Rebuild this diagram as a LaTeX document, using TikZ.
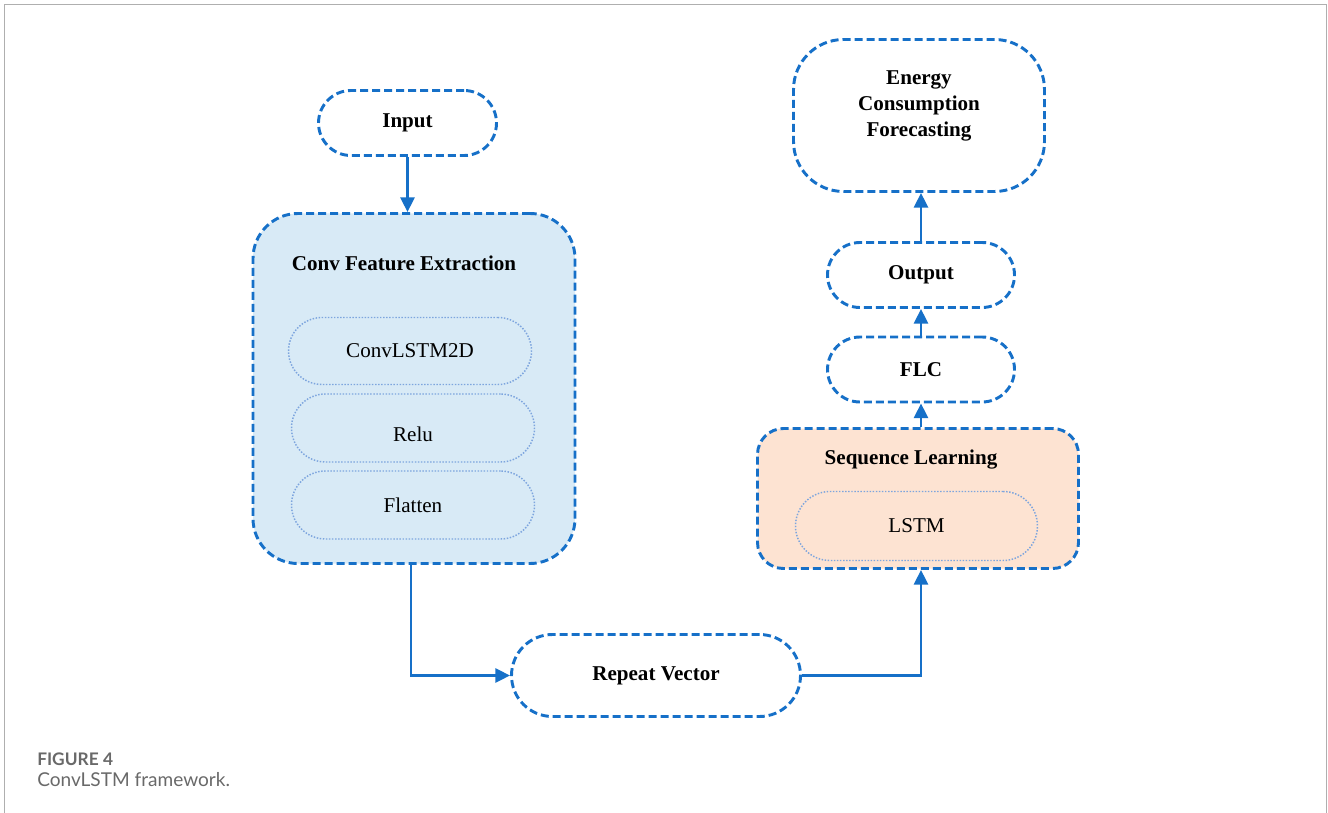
\documentclass[tikz,border=0pt]{standalone}
\usepackage{fontspec}
\setmainfont{Liberation Serif}
\newfontfamily\capfont{Lato}
\usetikzlibrary{arrows.meta,calc}
\newcommand\pxu{0.75pt}
\definecolor{lineblue}{RGB}{22,112,200}
\definecolor{dotblue}{RGB}{125,165,222}
\definecolor{convfill}{RGB}{216,234,246}
\definecolor{seqfill}{RGB}{253,227,210}
\definecolor{framegray}{RGB}{175,175,175}
\definecolor{capgray}{RGB}{105,105,105}
\tikzset{
  dashbox/.style={draw=lineblue, line width=2.2pt, dash pattern=on 6pt off 3pt, inner sep=0pt, align=center,
    font=\fontsize{15.8}{19.5}\selectfont\bfseries},
  dotbox/.style={draw=dotblue, line width=1.1pt, dash pattern=on 1.1pt off 1.2pt, inner sep=0pt,
    font=\fontsize{15.8}{19.5}\selectfont},
  conn/.style={draw=lineblue, line width=2.2pt, -{Triangle[length=11pt,width=10.5pt]}},
  titletext/.style={font=\fontsize{15.8}{19.5}\selectfont\bfseries, inner sep=0pt, align=center}
}
\begin{document}
\begin{tikzpicture}[x=0.75pt,y=-0.75pt]
\useasboundingbox (0,0) rectangle (1328,813);
% frame
\draw[framegray, line width=0.8pt] (4.5,813) -- (4.5,4.5) -- (1326.5,4.5) -- (1326.5,813);
% nodes
\node[dashbox, minimum width=178*\pxu, minimum height=65*\pxu, rounded corners=32.5*\pxu] (input) at (407.5,123) {Input};
\node[dashbox, fill=convfill, minimum width=322*\pxu, minimum height=350*\pxu, rounded corners=45*\pxu] (conv) at (414,388.5) {};
\node[titletext] (convt) at (404,263) {Conv Feature Extraction};
\node[dotbox, minimum width=243*\pxu, minimum height=67*\pxu, rounded corners=33.5*\pxu] (c1) at (410,351) {ConvLSTM2D};
\node[dotbox, minimum width=243*\pxu, minimum height=68*\pxu, rounded corners=34*\pxu] (c2) at (413,428) {};
\node[font=\fontsize{15.8}{19.5}\selectfont, inner sep=0pt] (c2t) at (413,434) {Relu};
\node[dotbox, minimum width=243*\pxu, minimum height=68*\pxu, rounded corners=34*\pxu] (c3) at (413,505) {Flatten};

\node[dashbox, minimum width=289*\pxu, minimum height=82*\pxu, rounded corners=41*\pxu] (rv) at (656,675.5) {Repeat Vector};

\node[dashbox, fill=seqfill, minimum width=321*\pxu, minimum height=140*\pxu, rounded corners=26*\pxu] (seq) at (918,498.5) {};
\node[titletext] (seqt) at (911,460) {Sequence Learning};
\node[dotbox, minimum width=242*\pxu, minimum height=69*\pxu, rounded corners=34.5*\pxu] (lstm) at (916.5,526) {LSTM};

\node[dashbox, minimum width=187*\pxu, minimum height=65*\pxu, rounded corners=32.5*\pxu] (flc) at (921,369.5) {FLC};
\node[dashbox, minimum width=187*\pxu, minimum height=65*\pxu, rounded corners=32.5*\pxu] (out) at (921,275) {Output};
\node[dashbox, minimum width=251*\pxu, minimum height=152*\pxu, rounded corners=50*\pxu] (energy) at (919,115.5) {};
\node[titletext] (energyt) at (919,106) {Energy\\Consumption\\Forecasting};

% connectors
\draw[conn] (input.south) -- (input.south |- conv.north);
\draw[conn] ($(conv.south)+(-3,0)$) |- (rv.west);
\draw[conn] (rv.east) -| (seq.south -| flc.south);
\draw[conn] (seq.north -| flc.south) -- (flc.south);
\draw[conn] (flc.north) -- (out.south);
\draw[conn] (out.north) -- (out.north |- energy.south);

% caption
\node[anchor=base west, inner sep=0pt, text=capgray, font=\capfont\fontsize{13}{15}\selectfont\bfseries] (fig) at (37,765) {FIGURE 4};
\node[anchor=base west, inner sep=0pt, text=capgray, font=\capfont\fontsize{14.3}{17}\selectfont] (cap) at (37,786) {ConvLSTM framework.};
\end{tikzpicture}
\end{document}
